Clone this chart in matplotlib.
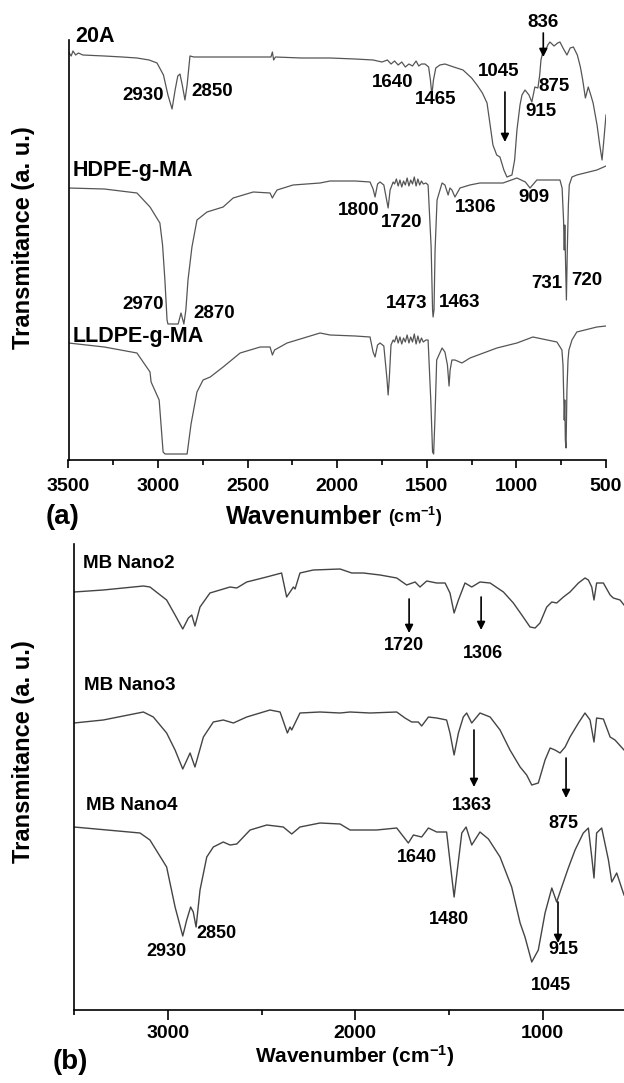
import matplotlib
matplotlib.use("Agg")
import matplotlib.pyplot as plt
from matplotlib.ticker import MultipleLocator

plt.rcParams['font.family'] = ['Liberation Sans', 'DejaVu Sans']
plt.rcParams['font.weight'] = 'bold'
plt.rcParams['mathtext.fontset'] = 'custom'
plt.rcParams['mathtext.rm'] = 'Liberation Sans:bold'
plt.rcParams['mathtext.default'] = 'rm'

# ---------------- (a) spectra: wavenumber (cm-1) / transmittance (a.u., offset) ----------------
wn_20a = [3500, 3485, 3475, 3460, 3445, 3420, 3300, 3200, 3118, 3050, 3006, 2970, 2945, 2922,
          2905, 2890, 2878, 2865, 2850, 2838, 2822, 2800, 2600, 2400, 2370, 2362, 2355, 2345,
          2200, 2040, 1900, 1800, 1750, 1720, 1700, 1680, 1660, 1640, 1620, 1600, 1580, 1560,
          1545, 1530, 1510, 1490, 1480, 1472, 1463, 1450, 1427, 1399, 1350, 1298, 1250, 1220,
          1190, 1164, 1131, 1110, 1092, 1070, 1053, 1025, 1010, 997, 980, 969, 952, 930, 914,
          897, 880, 870, 863, 850, 840, 825, 813, 790, 770, 757, 740, 718, 700, 682, 660, 643,
          630, 615, 599, 585, 572, 550, 535, 522, 512, 500]
t_20a = [408, 404, 409, 405, 407, 405, 404, 403, 402, 400, 397, 385, 365, 351,
         370, 384, 386, 375, 360, 375, 404, 403, 403, 403, 403, 408, 400, 403,
         402, 402, 401, 400, 398, 400, 396, 399, 395, 398, 393, 396, 394, 399,
         394, 396, 396, 393, 380, 365, 380, 392, 395, 396, 393, 390, 382, 375,
         367, 357, 315, 305, 303, 290, 283, 285, 300, 330, 355, 365, 370, 365, 358,
         373, 372, 385, 400, 410, 408, 415, 418, 414, 417, 418, 412, 405, 412, 413, 405, 393,
         380, 362, 373, 365, 357, 335, 315, 300, 320, 345]

wn_hdpe = [3500, 3300, 3118, 3045, 2990, 2975, 2962, 2950, 2945, 2888, 2872, 2856, 2845, 2833,
           2811, 2783, 2727, 2637, 2581, 2469, 2375, 2362, 2350, 2336, 2247, 2096, 2040, 1900,
           1817, 1800, 1789, 1775, 1761, 1740, 1716, 1705, 1688, 1680, 1670, 1660, 1650, 1640,
           1630, 1620, 1610, 1600, 1590, 1580, 1570, 1560, 1550, 1540, 1530, 1520, 1505, 1493,
           1476, 1468, 1465, 1460, 1454, 1443, 1415, 1399, 1381, 1371, 1360, 1343, 1315, 1260,
           1204, 1075, 997, 950, 924, 886, 757, 745, 737, 733, 730, 726, 721, 716, 710, 705,
           690, 663, 551, 500]
t_hdpe = [272, 271, 267, 253, 237, 215, 180, 140, 136, 136, 147, 136, 150, 180,
          213, 240, 248, 253, 262, 268, 267, 262, 266, 270, 275, 277, 279, 279,
          278, 271, 263, 276, 278, 275, 252, 270, 278, 276, 281, 274, 280, 273,
          279, 275, 282, 274, 280, 276, 283, 274, 281, 275, 279, 276, 277, 275,
          213, 150, 143, 150, 210, 260, 277, 275, 265, 272, 270, 263, 272, 275,
          277, 277, 282, 278, 272, 280, 280, 272, 240, 210, 235, 200, 160, 210, 255, 275,
          283, 285, 290, 294]

wn_lldpe = [3500, 3300, 3118, 3045, 3039, 2994, 2972, 2961, 2838, 2816, 2783, 2749, 2709, 2637,
            2542, 2430, 2375, 2362, 2350, 2280, 2096, 2040, 1900, 1817, 1800, 1789, 1775, 1761,
            1740, 1722, 1716, 1710, 1700, 1688, 1680, 1670, 1660, 1650, 1640, 1630, 1620, 1610,
            1600, 1590, 1580, 1570, 1560, 1550, 1540, 1530, 1520, 1505, 1493, 1478, 1468, 1462,
            1455, 1445, 1415, 1399, 1385, 1376, 1370, 1360, 1343, 1304, 1259, 1109, 997, 908,
            774, 746, 740, 733, 730, 727, 723, 718, 712, 707, 690, 663, 551, 500]
t_lldpe = [117, 113, 107, 88, 78, 60, 8, 6, 6, 36, 68, 80, 83, 93,
           107, 113, 113, 105, 110, 117, 127, 125, 124, 123, 108, 103, 115, 117,
           114, 80, 65, 80, 115, 120, 118, 124, 117, 123, 116, 122, 118, 125,
           117, 123, 118, 126, 116, 124, 117, 122, 118, 120, 120, 60, 8, 6,
           40, 100, 112, 108, 95, 74, 90, 100, 100, 97, 102, 112, 117, 123,
           118, 110, 95, 40, 60, 20, 12, 70, 100, 110, 120, 128, 133, 134]

# ---------------- (b) spectra ----------------
wn_nano2 = [3500, 3344, 3130, 3095, 3006, 2961, 2920, 2890, 2872, 2855, 2828, 2775, 2668, 2632,
            2579, 2473, 2393, 2366, 2348, 2330, 2321, 2295, 2224, 2081, 2019, 1957, 1868, 1779,
            1726, 1681, 1655, 1619, 1566, 1521, 1495, 1473, 1450, 1415, 1379, 1335, 1281, 1210,
            1157, 1112, 1068, 1041, 1015, 979, 952, 926, 890, 855, 810, 775, 757, 739, 727, 713,
            677, 641, 624, 588, 567]
t_nano2 = [418, 420, 424, 423, 410, 395, 381, 392, 395, 384, 403, 417, 423, 422,
           428, 433, 437, 413, 418, 423, 421, 437, 440, 441, 437, 437, 435, 432,
           425, 428, 423, 429, 427, 427, 417, 397, 410, 427, 423, 428, 427, 418,
           407, 395, 383, 382, 387, 403, 408, 407, 413, 418, 427, 432, 430, 423, 410, 427,
           427, 415, 412, 410, 405]

wn_nano3 = [3500, 3344, 3130, 3077, 3006, 2961, 2920, 2881, 2855, 2810, 2757, 2704, 2650, 2579,
            2455, 2401, 2362, 2348, 2339, 2295, 2188, 2081, 2028, 1921, 1779, 1735, 1699, 1664,
            1646, 1610, 1566, 1513, 1495, 1473, 1450, 1424, 1406, 1379, 1335, 1281, 1228, 1175,
            1121, 1086, 1059, 1024, 988, 961, 935, 908, 881, 855, 810, 775, 748, 727, 713, 677,
            641, 615, 567]
t_nano3 = [287, 290, 298, 293, 277, 260, 241, 257, 243, 273, 288, 290, 287, 293,
           300, 298, 277, 283, 280, 297, 298, 297, 298, 297, 298, 292, 288, 288,
           284, 293, 292, 290, 277, 255, 277, 293, 297, 287, 297, 293, 280, 260,
           243, 235, 225, 227, 250, 262, 260, 257, 263, 273, 287, 297, 290, 268, 292, 291,
           273, 270, 260]

wn_nano4 = [3500, 3148, 3095, 3006, 2961, 2920, 2899, 2878, 2864, 2849, 2828, 2792, 2757, 2704,
            2668, 2632, 2561, 2472, 2384, 2339, 2295, 2188, 2081, 2028, 1886, 1779, 1717, 1690,
            1646, 1610, 1566, 1513, 1473, 1432, 1409, 1379, 1335, 1290, 1228, 1166, 1121, 1095,
            1059, 1024, 988, 952, 926, 899, 864, 828, 784, 757, 739, 727, 713, 686, 650, 632,
            606, 567]
t_nano4 = [183, 177, 170, 143, 103, 74, 90, 103, 98, 83, 120, 153, 163, 168,
           165, 166, 180, 185, 183, 176, 183, 187, 186, 180, 180, 182, 167, 175,
           173, 182, 178, 178, 113, 177, 183, 165, 178, 171, 153, 123, 87, 73,
           48, 60, 97, 122, 108, 123, 142, 160, 177, 182, 153, 132, 177, 182, 150, 128,
           137, 115]

# sample names and band labels
names_a = ['20A', 'HDPE-g-MA', 'LLDPE-g-MA']
names_b = ['MB Nano2', 'MB Nano3', 'MB Nano4']
bands_a = ['2930', '2850', '1640', '1465', '1045', '836', '875', '915',
           '1800', '1720', '1306', '909', '1473', '1463', '731', '720', '2970', '2870']
bands_b = ['1720', '1306', '1363', '875', '1640', '1480', '915', '1045', '2930', '2850']

# ---------------- FIGURE ----------------
W, H = 624, 1083
fig = plt.figure(figsize=(W / 100, H / 100), dpi=100)
ax_a = fig.add_axes([68.5 / W, 1 - 460 / H, 537.5 / W, 420 / H])
ax_b = fig.add_axes([74 / W, 1 - 1010 / H, 550 / W, 466 / H])

line_kw = dict(color='#555555', lw=0.9)
ax_a.plot(wn_20a, t_20a, **line_kw)
ax_a.plot(wn_hdpe, t_hdpe, **line_kw)
ax_a.plot(wn_lldpe, t_lldpe, **line_kw)
ax_b.plot(wn_nano2, t_nano2, color='#444444', lw=1.0)
ax_b.plot(wn_nano3, t_nano3, color='#444444', lw=1.0)
ax_b.plot(wn_nano4, t_nano4, color='#444444', lw=1.0)

ax_a.set_xlim(3500, 500)
ax_a.set_ylim(0, 420)
ax_b.set_xlim(3500, 567)
ax_b.set_ylim(0, 466)

for ax in (ax_a, ax_b):
    ax.spines['top'].set_visible(False)
    ax.spines['right'].set_visible(False)
    ax.spines['left'].set_linewidth(1.2)
    ax.spines['bottom'].set_linewidth(1.2)
    ax.set_yticks([])
    ax.tick_params(axis='x', which='major', direction='out', length=6, width=1.2,
                   labelsize=14, pad=7)
    ax.tick_params(axis='x', which='minor', direction='out', length=3.5, width=1.2)
    for lb in ax.get_xticklabels():
        lb.set_fontweight('bold')

ax_a.xaxis.set_major_locator(MultipleLocator(500))
ax_a.xaxis.set_minor_locator(MultipleLocator(250))
ax_b.xaxis.set_major_locator(MultipleLocator(1000))
ax_b.xaxis.set_minor_locator(MultipleLocator(500))
ax_b.tick_params(axis='x', which='major', length=7, pad=4)

# sample names
ax_a.text(3464, 423, names_a[0], fontsize=15.5, ha='left', va='center')
ax_a.text(3475, 289, names_a[1], fontsize=15.5, ha='left', va='center')
ax_a.text(3475, 123, names_a[2], fontsize=15.5, ha='left', va='center')
ax_b.text(3452, 447, names_b[0], fontsize=13.5, ha='left', va='center')
ax_b.text(3447, 325, names_b[1], fontsize=13.5, ha='left', va='center')
ax_b.text(3436, 205, names_b[2], fontsize=13.5, ha='left', va='center')

# band labels (a)
pos_a = [(3084, 364), (2699, 368), (1689, 377), (1449, 360), (1097, 388), (852, 437),
         (790, 373), (863, 348), (1879, 249), (1639, 237), (1226, 252), (902, 262),
         (1611, 156), (1315, 157), (830, 176), (606, 179), (3084, 155), (2688, 146)]
for lab, (x, y) in zip(bands_a, pos_a):
    ax_a.text(x, y, lab, fontsize=13.5, ha='center', va='center')

# band labels (b)
pos_b = [(1740, 365), (1319, 357), (1377, 205), (892, 187), (1671, 153), (1500, 90),
         (892, 61), (956, 25), (3009, 59), (2743, 76)]
for lab, (x, y) in zip(bands_b, pos_b):
    ax_b.text(x, y, lab, fontsize=13, ha='center', va='center')

arrow_kw = dict(arrowstyle='-|>', color='k', lw=1.2, mutation_scale=12, shrinkA=0, shrinkB=0)
ax_a.annotate('', xy=(1064, 318), xytext=(1064, 368), arrowprops=arrow_kw)
ax_a.annotate('', xy=(850, 403), xytext=(850, 427), arrowprops=arrow_kw)
ax_b.annotate('', xy=(1713, 377), xytext=(1713, 411), arrowprops=arrow_kw)
ax_b.annotate('', xy=(1329, 380), xytext=(1329, 413), arrowprops=arrow_kw)
ax_b.annotate('', xy=(1367, 223), xytext=(1367, 280), arrowprops=arrow_kw)
ax_b.annotate('', xy=(876, 212), xytext=(876, 252), arrowprops=arrow_kw)
ax_b.annotate('', xy=(919, 67), xytext=(919, 108), arrowprops=arrow_kw)

# axis titles
fig.text(24 / W, 1 - 238 / H, 'Transmitance (a. u.)', fontsize=17, rotation=90,
         ha='center', va='center')
fig.text(24 / W, 1 - 752 / H, 'Transmitance (a. u.)', fontsize=17, rotation=90,
         ha='center', va='center')
fig.text(63 / W, 1 - 517 / H, '(a)', fontsize=20, ha='center', va='center')
fig.text(226 / W, 1 - 517 / H, 'Wavenumber', fontsize=18, ha='left', va='center')
fig.text(388 / W, 1 - 517 / H, '(cm$^{-1}$)', fontsize=13, ha='left', va='center')
fig.text(70 / W, 1 - 1062 / H, '(b)', fontsize=20, ha='center', va='center')
fig.text(355 / W, 1 - 1056 / H, 'Wavenumber (cm$^{-1}$)', fontsize=15, ha='center', va='center')

fig.savefig('out.png', dpi=100)
